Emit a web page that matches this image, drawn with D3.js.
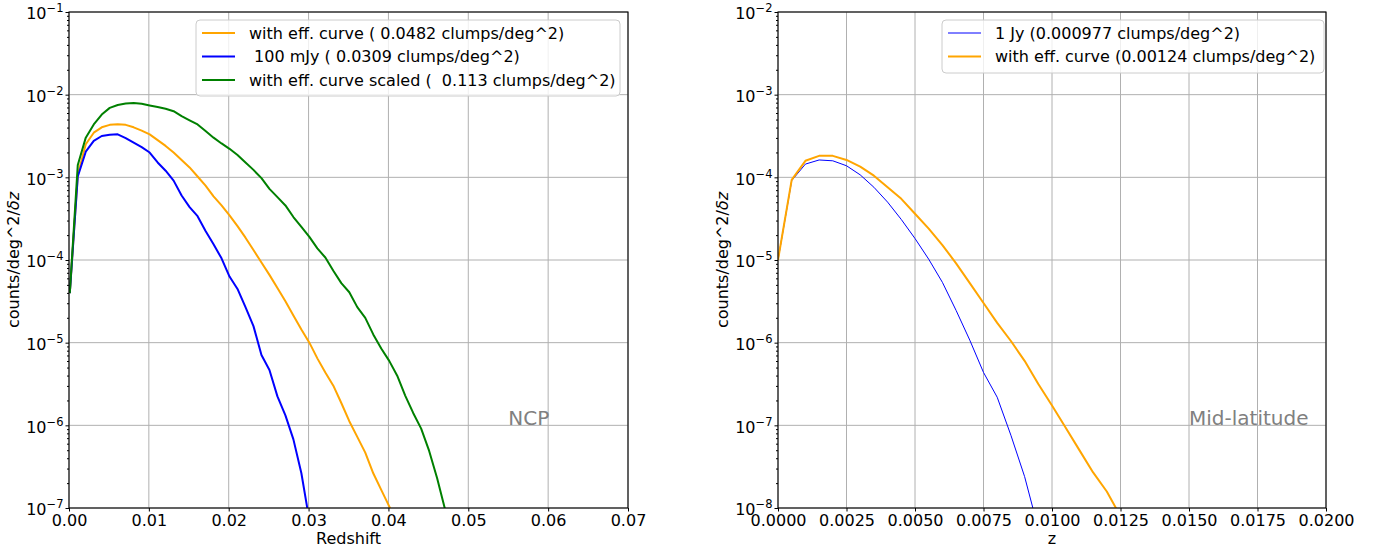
<!DOCTYPE html>
<html>
<head>
<meta charset="utf-8">
<script src="https://cdnjs.cloudflare.com/ajax/libs/d3/7.8.5/d3.min.js"></script>
<style>
    body{margin:0;background:#fff;}
    svg{display:block;font-family:"DejaVu Sans",sans-serif;}
</style>
</head>
<body>
<div id="chart"></div>
<script>
/*global d3: false */

//====================================
//data (values are log10 of counts/deg^2/dz)
var ncpRedshift = [0.0001, 0.0011, 0.0021, 0.0031, 0.0041, 0.0051, 0.0061, 0.0071, 0.0081, 0.0091,
    0.0101, 0.0111, 0.0121, 0.0131, 0.0141, 0.0151, 0.0161, 0.0171, 0.0181, 0.0191,
    0.0201, 0.0211, 0.0221, 0.0231, 0.0241, 0.0251, 0.0261, 0.0271, 0.0281, 0.0291,
    0.0301, 0.0311, 0.0321, 0.0331, 0.0341, 0.0351, 0.0361, 0.0371, 0.0381, 0.0391,
    0.0401, 0.0411, 0.0421, 0.0431, 0.0441, 0.0451, 0.0461, 0.0471];

var ncpEffLog = [-4.40, -2.97, -2.60, -2.46, -2.395, -2.365, -2.358, -2.365, -2.395, -2.435,
    -2.48, -2.55, -2.62, -2.70, -2.79, -2.88, -2.99, -3.10, -3.23, -3.34,
    -3.46, -3.59, -3.73, -3.88, -4.03, -4.18, -4.34, -4.50, -4.67, -4.84,
    -5.00, -5.19, -5.36, -5.52, -5.73, -5.95, -6.14, -6.33, -6.58, -6.78,
    -6.98, -7.20];

var ncp100mJyLog = [-4.40, -2.99, -2.69, -2.56, -2.50, -2.485, -2.48, -2.525, -2.58, -2.635,
    -2.70, -2.82, -2.92, -3.04, -3.22, -3.36, -3.47, -3.65, -3.81, -3.98,
    -4.20, -4.35, -4.57, -4.80, -5.15, -5.33, -5.65, -5.88, -6.17, -6.58,
    -7.15];

var ncpScaledLog = [-4.40, -2.85, -2.52, -2.36, -2.24, -2.16, -2.125, -2.108, -2.10, -2.11,
    -2.13, -2.148, -2.17, -2.20, -2.26, -2.31, -2.36, -2.44, -2.52, -2.59,
    -2.655, -2.73, -2.82, -2.91, -3.01, -3.14, -3.24, -3.34, -3.48, -3.60,
    -3.72, -3.86, -3.97, -4.13, -4.28, -4.39, -4.57, -4.70, -4.90, -5.07,
    -5.22, -5.40, -5.64, -5.85, -6.04, -6.31, -6.64, -7.02];

var midRedshift = [0.0000, 0.0005, 0.0010, 0.0015, 0.0020, 0.0025, 0.0030, 0.0035, 0.0040, 0.0045,
    0.0050, 0.0055, 0.0060, 0.0065, 0.0070, 0.0075, 0.0080, 0.0085, 0.0090, 0.0095,
    0.0100, 0.0105, 0.0110, 0.0115, 0.0120, 0.0125];

var mid1JyLog = [-5.00, -4.04, -3.84, -3.79, -3.80, -3.86, -3.97, -4.12, -4.30, -4.51,
    -4.74, -4.99, -5.27, -5.61, -5.97, -6.36, -6.66, -7.12, -7.62, -8.25];

var midEffLog = [-5.00, -4.03, -3.80, -3.74, -3.74, -3.79, -3.87, -3.98, -4.12, -4.26,
    -4.44, -4.62, -4.82, -5.04, -5.28, -5.52, -5.76, -5.98, -6.22, -6.50,
    -6.76, -7.03, -7.30, -7.57, -7.80, -8.10];

var ncpLegend = ["with eff. curve ( 0.0482 clumps/deg^2)",
    " 100 mJy ( 0.0309 clumps/deg^2)",
    "with eff. curve scaled (  0.113 clumps/deg^2)"];
var midLegend = ["1 Jy (0.000977 clumps/deg^2)",
    "with eff. curve (0.00124 clumps/deg^2)"];

var ncpXTicks = [0, 0.01, 0.02, 0.03, 0.04, 0.05, 0.06, 0.07];
var midXTicks = [0, 0.0025, 0.005, 0.0075, 0.01, 0.0125, 0.015, 0.0175, 0.02];
var ncpYExponents = [-7, -6, -5, -4, -3, -2, -1];
var midYExponents = [-8, -7, -6, -5, -4, -3, -2];

(function(){
    "use strict";

    var width = 1384, height = 551;
    var svg = d3.select("#chart").append("svg")
        .attr("width", width)
        .attr("height", height);

    //turn parallel arrays into point lists
    function zip(zs, logs){
        return logs.map(function(v, i){ return {z: zs[i], v: Math.pow(10, v)}; });
    }

    function drawPanel(cfg){
        var x = d3.scaleLinear().domain(cfg.xDomain).range([cfg.left, cfg.right]);
        var y = d3.scaleLog().domain([Math.pow(10, cfg.yExp[0]), Math.pow(10, cfg.yExp[cfg.yExp.length - 1])])
            .range([cfg.bottom, cfg.top]);
        var decades = cfg.yExp.map(function(e){ return Math.pow(10, e); });
        var minors = [];
        cfg.yExp.slice(0, -1).forEach(function(e){
            for(var k = 2; k < 10; k++){ minors.push(k * Math.pow(10, e)); }
        });

        var g = svg.append("g");

        //grid
        var grid = g.append("g").attr("stroke", "#b0b0b0").attr("stroke-width", 1);
        grid.selectAll("line.gx").data(cfg.xTicks).enter().append("line")
            .attr("x1", function(d){ return x(d); }).attr("x2", function(d){ return x(d); })
            .attr("y1", cfg.top).attr("y2", cfg.bottom);
        grid.selectAll("line.gy").data(decades).enter().append("line")
            .attr("x1", cfg.left).attr("x2", cfg.right)
            .attr("y1", function(d){ return y(d); }).attr("y2", function(d){ return y(d); });

        //curves
        var clipId = "clip" + cfg.name;
        svg.append("clipPath").attr("id", clipId).append("rect")
            .attr("x", cfg.left).attr("y", cfg.top)
            .attr("width", cfg.right - cfg.left).attr("height", cfg.bottom - cfg.top);
        var line = d3.line()
            .x(function(d){ return x(d.z); })
            .y(function(d){ return y(d.v); });
        g.append("g").attr("clip-path", "url(#" + clipId + ")")
            .selectAll("path").data(cfg.series).enter().append("path")
            .attr("d", function(s){ return line(zip(s.z, s.log)); })
            .attr("fill", "none")
            .attr("stroke", function(s){ return s.color; })
            .attr("stroke-width", function(s){ return s.width; })
            .attr("stroke-linejoin", "round");

        //frame
        g.append("rect")
            .attr("x", cfg.left).attr("y", cfg.top)
            .attr("width", cfg.right - cfg.left).attr("height", cfg.bottom - cfg.top)
            .attr("fill", "none").attr("stroke", "#000").attr("stroke-width", 1.1);

        //x axis
        var xAxis = g.append("g")
            .attr("transform", "translate(0," + cfg.bottom + ")")
            .call(d3.axisBottom(x).tickValues(cfg.xTicks).tickFormat(d3.format(cfg.xFormat))
                .tickSize(3.5).tickSizeOuter(0).tickPadding(3.5));
        xAxis.select(".domain").remove();
        xAxis.selectAll("text").attr("font-size", 16).attr("font-family", "DejaVu Sans").attr("fill", "#000");

        //y axis, minor then major
        var yMinor = g.append("g")
            .attr("transform", "translate(" + cfg.left + ",0)")
            .call(d3.axisLeft(y).tickValues(minors).tickFormat("").tickSize(2).tickSizeOuter(0));
        yMinor.select(".domain").remove();
        var yAxis = g.append("g")
            .attr("transform", "translate(" + cfg.left + ",0)")
            .call(d3.axisLeft(y).tickValues(decades).tickFormat(function(){ return "10"; })
                .tickSize(3.5).tickSizeOuter(0).tickPadding(2));
        yAxis.select(".domain").remove();
        yAxis.selectAll("text")
            .attr("font-size", 16).attr("font-family", "DejaVu Sans").attr("fill", "#000")
            .attr("dy", "0.42em")
            .each(function(d){
                d3.select(this).append("tspan")
                    .attr("dy", -7).attr("font-size", 11.5)
                    .text("\u2212" + Math.abs(Math.round(Math.log10(d))));
            });

        //axis labels
        g.append("text")
            .attr("x", (cfg.left + cfg.right) / 2).attr("y", 544)
            .attr("text-anchor", "middle").attr("font-size", 16)
            .text(cfg.xLabel);
        var yl = g.append("text")
            .attr("transform", "translate(" + (cfg.left - 50) + "," + ((cfg.top + cfg.bottom) / 2) + ") rotate(-90)")
            .attr("text-anchor", "middle").attr("font-size", 16)
            .text("counts/deg^2/");
        yl.append("tspan").attr("font-style", "italic").text("\u03b4z");

        //region name
        g.append("text")
            .attr("x", x(cfg.note.z)).attr("y", y(cfg.note.v))
            .attr("font-size", 20).attr("fill", "#808080")
            .text(cfg.note.text);

        //legend
        var lg = g.append("g");
        lg.append("rect")
            .attr("x", cfg.legend.x).attr("y", cfg.legend.y)
            .attr("width", cfg.legend.w).attr("height", cfg.legend.h)
            .attr("rx", 4).attr("ry", 4)
            .attr("fill", "#fff").attr("fill-opacity", 0.8)
            .attr("stroke", "#cccccc").attr("stroke-width", 1);
        var rows = lg.selectAll("g.row").data(cfg.series.slice().sort(function(a, b){ return a.order - b.order; }))
            .enter().append("g")
            .attr("transform", function(d, i){ return "translate(" + (cfg.legend.x + 6) + "," + (cfg.legend.y + 13 + i * 23.5) + ")"; });
        rows.append("line")
            .attr("x1", 0).attr("x2", 33).attr("y1", 0).attr("y2", 0)
            .attr("stroke", function(d){ return d.color; })
            .attr("stroke-width", function(d){ return d.width; });
        rows.append("text")
            .attr("x", 47).attr("y", 5.5)
            .attr("font-size", 16)
            .attr("xml:space", "preserve")
            .style("white-space", "pre")
            .text(function(d){ return d.label; });
    }

    drawPanel({
        name: "ncp",
        left: 69, right: 628, top: 12, bottom: 508,
        xDomain: [0, 0.07], xTicks: ncpXTicks, xFormat: ".2f",
        yExp: ncpYExponents,
        xLabel: "Redshift",
        note: {text: "NCP", z: 0.055, v: 1e-6},
        legend: {x: 196, y: 20, w: 424, h: 76},
        series: [
            {z: ncpRedshift, log: ncpEffLog, color: "#ffa500", width: 2, label: ncpLegend[0], order: 0},
            {z: ncpRedshift, log: ncp100mJyLog, color: "#0000ff", width: 2, label: ncpLegend[1], order: 1},
            {z: ncpRedshift, log: ncpScaledLog, color: "#008000", width: 2, label: ncpLegend[2], order: 2}
        ]
    });

    drawPanel({
        name: "mid",
        left: 778, right: 1326, top: 12, bottom: 508,
        xDomain: [0, 0.02], xTicks: midXTicks, xFormat: ".4f",
        yExp: midYExponents,
        xLabel: "z",
        note: {text: "Mid-latitude", z: 0.015, v: 1e-7},
        legend: {x: 942, y: 20, w: 382, h: 53},
        series: [
            {z: midRedshift, log: mid1JyLog, color: "#0000ff", width: 1, label: midLegend[0], order: 0},
            {z: midRedshift, log: midEffLog, color: "#ffa500", width: 2, label: midLegend[1], order: 1}
        ]
    });
})();
</script>
</body>
</html>
